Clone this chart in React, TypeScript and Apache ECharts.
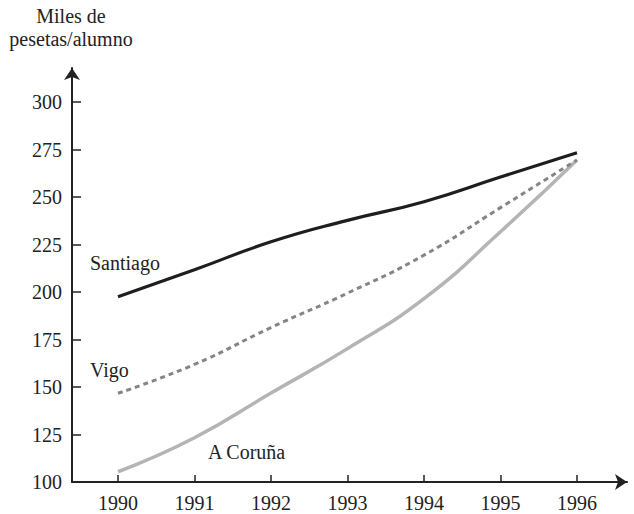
import React, { useEffect, useRef } from "react";
import * as echarts from "echarts";

const years = [1990, 1991, 1992, 1993, 1994, 1995, 1996];
const santiago = [197.5, 211.7, 226.4, 237.7, 247.5, 260.5, 273.3];
const vigo = [146.7, 161.9, 181.3, 199.4, 219.4, 244.4, 269.5];
const coruna = [105.4, 123.3, 146.8, 170.2, 196.5, 231.7, 269.5];
const yTicks = [100, 125, 150, 175, 200, 225, 250, 275, 300];
const titleLines = ["Miles de", "pesetas/alumno"];
const seriesNames = ["Santiago", "Vigo", "A Coruña"];

const FONT = "'Liberation Serif', 'DejaVu Serif', serif";
const INK = "#222";

export default function App() {
  const ref = useRef<HTMLDivElement>(null);
  useEffect(() => {
    if (!ref.current) return;
    const chart = echarts.init(ref.current, undefined, { renderer: "svg" });
    const pair = (arr: number[]) => years.map((y, i) => [y, arr[i]]);
    const textStyle = { fontFamily: FONT, fontSize: 20, fill: INK };
    chart.setOption({
      animation: false,
      backgroundColor: "#fff",
      textStyle: { fontFamily: FONT, fontSize: 20, color: INK },
      grid: { left: 72, right: 7, top: 68, bottom: 32, containLabel: false },
      xAxis: {
        type: "value",
        min: 1989.399,
        max: 1996.654,
        splitLine: { show: false },
        axisLine: { show: true, symbol: ["none", "arrow"], symbolSize: [12, 12], lineStyle: { color: INK, width: 2 } },
        axisTick: { show: true, inside: true, length: 7, customValues: years, lineStyle: { color: INK, width: 1.5 } },
        axisLabel: {
          customValues: years,
          formatter: (v: number) => String(v),
          fontFamily: FONT,
          fontSize: 20,
          color: INK,
          margin: 11,
        },
      },
      yAxis: {
        type: "value",
        min: 100,
        max: 317.9,
        splitLine: { show: false },
        axisLine: { show: true, symbol: ["none", "arrow"], symbolSize: [12, 12], lineStyle: { color: INK, width: 2 } },
        axisTick: { show: true, inside: true, length: 9, customValues: yTicks.slice(1), lineStyle: { color: INK, width: 1.5 } },
        axisLabel: {
          customValues: yTicks,
          formatter: (v: number) => String(v),
          fontFamily: FONT,
          fontSize: 20,
          color: INK,
          margin: 10,
        },
      },
      series: [
        {
          name: seriesNames[2],
          type: "line",
          data: pair(coruna),
          smooth: 0.5,
          showSymbol: false,
          lineStyle: { color: "#b4b4b4", width: 3.5 },
          z: 2,
        },
        {
          name: seriesNames[1],
          type: "line",
          data: pair(vigo),
          smooth: 0.5,
          showSymbol: false,
          lineStyle: { color: "#858585", width: 3, type: [5, 4] },
          z: 3,
        },
        {
          name: seriesNames[0],
          type: "line",
          data: pair(santiago),
          smooth: 0.5,
          showSymbol: false,
          lineStyle: { color: "#1e1e1e", width: 3.2 },
          z: 4,
        },
      ],
      graphic: [
        { type: "text", x: 71, y: 15.5, style: { ...textStyle, text: titleLines[0], align: "center", verticalAlign: "middle" } },
        { type: "text", x: 71, y: 38.5, style: { ...textStyle, text: titleLines[1], align: "center", verticalAlign: "middle" } },
        { type: "text", x: 90, y: 263, style: { ...textStyle, text: seriesNames[0], align: "left", verticalAlign: "middle" } },
        { type: "text", x: 90, y: 370, style: { ...textStyle, text: seriesNames[1], align: "left", verticalAlign: "middle" } },
        { type: "text", x: 208, y: 452, style: { ...textStyle, text: seriesNames[2], align: "left", verticalAlign: "middle" } },
      ],
    });
    return () => chart.dispose();
  }, []);
  return (
    <div
      ref={ref}
      style={{ position: "fixed", left: 0, top: 0, width: 634, height: 514, background: "#fff" }}
    />
  );
}
